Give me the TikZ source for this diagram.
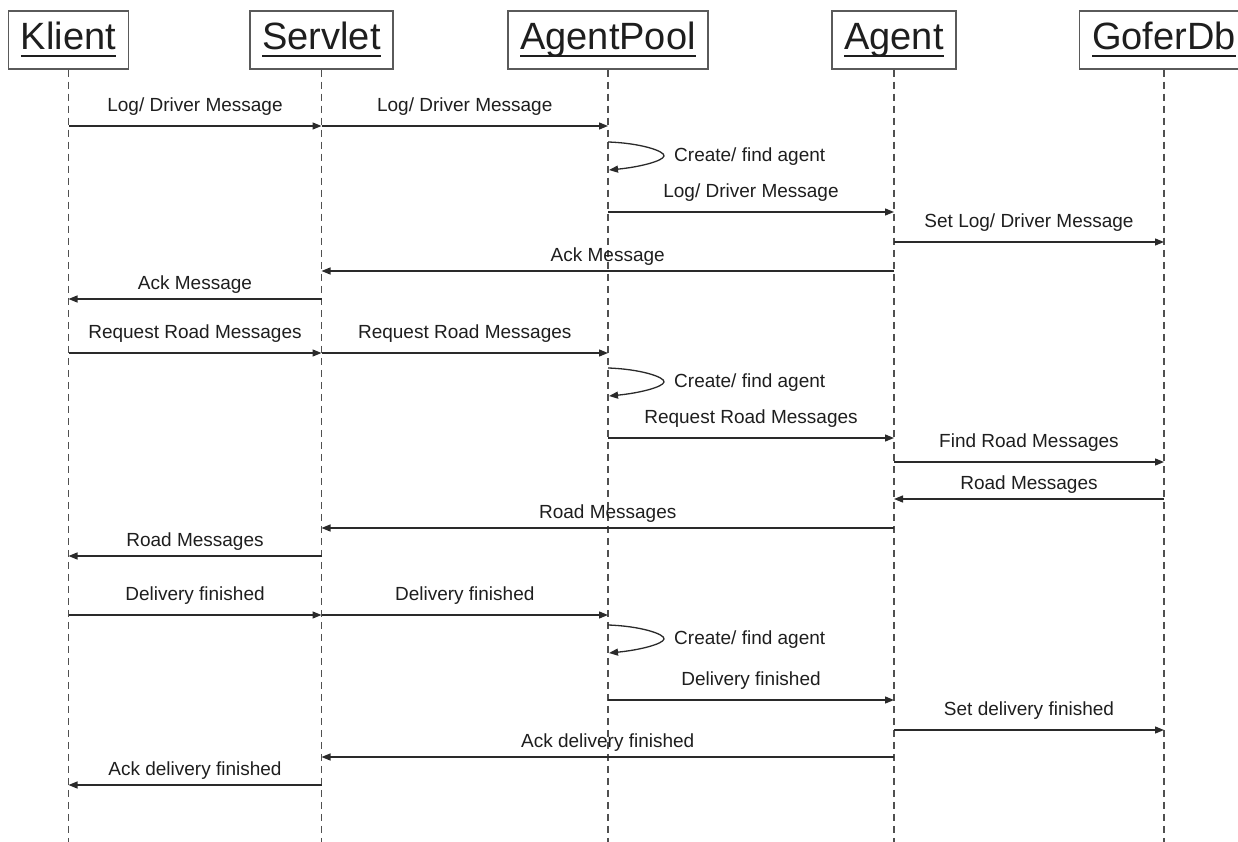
\documentclass[tikz,border=0pt]{standalone}
\usepackage{fontspec}
\setmainfont{Liberation Sans}
\usetikzlibrary{arrows.meta}

\definecolor{ink}{HTML}{1E1E1E}
\definecolor{linec}{HTML}{2A2A2A}
\definecolor{lifec}{HTML}{505050}
\definecolor{boxc}{HTML}{5A5A5A}

% underlined participant name with a heavy rule
\newcommand\hdul[1]{\setbox0\hbox{#1}\rlap{\usebox0}\raisebox{-7.2pt}{\rule{\wd0}{2.6pt}}}

% message to the right: label sits higher above the line
\newcommand\callR[5]{\draw[msg] (#2 |- 0,#4) -- (#3 |- 0,#4)
  node[lbl, midway, yshift=14.5pt] (#1) {#5};}
% return message to the left: label closer to the line
\newcommand\callL[5]{\draw[msg] (#2 |- 0,#4) -- (#3 |- 0,#4)
  node[lbl, midway, yshift=10pt] (#1) {#5};}
% self call on a lifeline
\newcommand\selfcall[3]{%
  \begin{scope}[shift={(#2 |- 0,#3)}]
    \draw[msg] (0,0) .. controls (32,1) and (57,9) .. (56,14)
                     .. controls (55,19) and (32,25) .. (1,28);
    \node[lbl, anchor=base west] (#1) at (66,19.5) {Create/ find agent};
  \end{scope}}

\tikzset{
  actor/.style={draw=boxc, line width=1.5pt, fill=white, anchor=base,
    inner xsep=12.5pt, inner ysep=0pt, text height=39pt, text depth=19pt,
    font=\fontsize{38}{44}\selectfont, text=ink},
  lifeline/.style={draw=lifec, line width=1.3pt, dash pattern=on 7pt off 5pt},
  msg/.style={draw=linec, line width=1.3pt, -{Triangle[length=9pt,width=7pt]}},
  lbl/.style={anchor=base, inner sep=0pt, font=\fontsize{19}{22}\selectfont, text=ink},
}

\begin{document}
\begin{tikzpicture}[x=1pt,y=-1pt]
\useasboundingbox (0,0) rectangle (1238,842);
\clip (0,0) rectangle (1238,842);

% participants
\node[actor] (kl) at (68.5,50)  {\hdul{Klient}};
\node[actor] (sv) at (321.5,50) {\hdul{Servlet}};
\node[actor] (ap) at (608,50)   {\hdul{AgentPool}};
\node[actor] (ag) at (894,50)   {\hdul{Agent}};
\node[actor] (gd) at (1164,50)  {\hdul{GoferDb}};

% lifelines
\foreach \p in {kl,sv,ap,ag,gd}
  \draw[lifeline] (\p.south) -- (\p.south |- 0,842);

% logging a driver message
\callR{r1}{kl}{sv}{126}{Log/ Driver Message}
\callR{r2}{sv}{ap}{126}{Log/ Driver Message}
\selfcall{s1}{ap}{142}
\callR{r3}{ap}{ag}{212}{Log/ Driver Message}
\callR{r4}{ag}{gd}{242}{Set Log/ Driver Message}
\callL{r5}{ag}{sv}{271}{Ack Message}
\callL{r6}{sv}{kl}{299}{Ack Message}

% requesting road messages
\callR{r7}{kl}{sv}{353}{Request Road Messages}
\callR{r8}{sv}{ap}{353}{Request Road Messages}
\selfcall{s2}{ap}{368}
\callR{r9}{ap}{ag}{438}{Request Road Messages}
\callR{r10}{ag}{gd}{462}{Find Road Messages}
\callL{r11}{gd}{ag}{499}{Road Messages}
\callL{r12}{ag}{sv}{528}{Road Messages}
\callL{r13}{sv}{kl}{556}{Road Messages}

% finishing a delivery
\callR{r14}{kl}{sv}{615}{Delivery finished}
\callR{r15}{sv}{ap}{615}{Delivery finished}
\selfcall{s3}{ap}{625}
\callR{r16}{ap}{ag}{700}{Delivery finished}
\callR{r17}{ag}{gd}{730}{Set delivery finished}
\callL{r18}{ag}{sv}{757}{Ack delivery finished}
\callL{r19}{sv}{kl}{785}{Ack delivery finished}
\end{tikzpicture}
\end{document}
